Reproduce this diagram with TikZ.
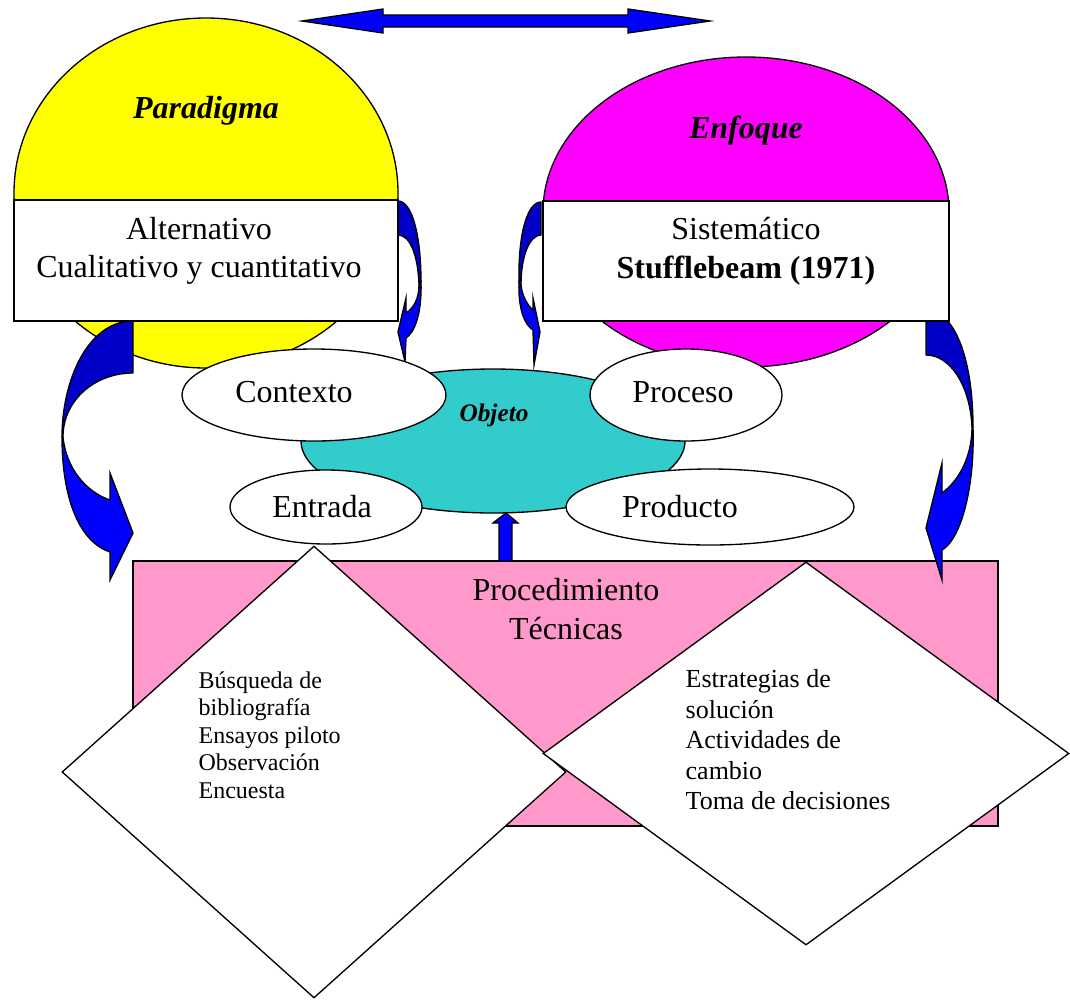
\documentclass[tikz,border=0pt]{standalone}
\usepackage{fontspec}
\setmainfont{Liberation Serif}
\usetikzlibrary{shapes.geometric}
\newlength\pxu
\setlength\pxu{0.75pt}
\definecolor{sunyellow}{HTML}{FFFF00}
\definecolor{hotmagenta}{HTML}{FF00FF}
\definecolor{objteal}{HTML}{33CCCC}
\definecolor{procpink}{HTML}{FF99CC}
\definecolor{ribbonblue}{HTML}{0000FF}
\definecolor{ribbondark}{HTML}{0000C8}
\begin{document}
\begin{tikzpicture}[x=0.75pt, y=-0.75pt, line width=1pt,
  blob/.style={ellipse, draw=black, inner sep=0pt, outer sep=0pt},
  panel/.style={rectangle, draw=black, fill=white, inner sep=0pt},
  rhomb/.style={diamond, draw=black, fill=white, inner sep=0pt},
  bigtext/.style={font=\fontsize{24}{29}\selectfont, inner sep=0pt},
  titletext/.style={font=\fontsize{24}{29}\selectfont\bfseries\itshape, inner sep=0pt},
  ribbonback/.style={fill=ribbondark, draw=black, line join=round},
  ribbonfront/.style={fill=ribbonblue, draw=black, line join=miter},
  blockarrow/.style={fill=ribbonblue, draw=black, line join=miter}]
\useasboundingbox (0,0) rectangle (1070,1000);

% procedure panel at the bottom
\node[panel, fill=procpink, minimum width=865\pxu, minimum height=265\pxu] (proc) at (565.5,693.5) {};

% paradigm and approach discs
\node[blob, fill=sunyellow, minimum width=384\pxu, minimum height=350\pxu] (paradisc) at (206,193) {};
\node[blob, fill=hotmagenta, minimum width=406\pxu, minimum height=310\pxu] (enfdisc) at (746,212) {};

% double arrow across the top
\draw[blockarrow] (302,21) -- (383,9) -- (383,15) -- (628,15) -- (628,9) -- (710,21)
  -- (628,33) -- (628,27) -- (383,27) -- (383,33) -- cycle;

% large curved ribbon arrow, left
\draw[ribbonback] (133,321) .. controls (88,321) and (62,380) .. (62,437)
  -- (63,437) .. controls (63,400) and (95,373) .. (133,373) -- cycle;
\draw[ribbonfront] (62,437) .. controls (62,500) and (80,542) .. (110,552)
  -- (110,580) -- (133,533) -- (110,473) -- (110,500)
  .. controls (86,492) and (66,468) .. (63,437) -- cycle;

% large curved ribbon arrow, right
\draw[ribbonback] (926,310) .. controls (955,310) and (973,360) .. (973,427)
  -- (972,427) .. controls (970,385) and (950,355) .. (926,355) -- cycle;
\draw[ribbonfront] (973,427) .. controls (975,490) and (960,540) .. (942,550)
  -- (942,580) -- (926,528) -- (942,463) -- (942,493)
  .. controls (960,480) and (972,455) .. (972,427) -- cycle;

% small curved ribbon arrow, left
\draw[ribbonback] (398,201) .. controls (412,201) and (421,235) .. (421,282)
  -- (419,285) .. controls (418,255) and (410,235) .. (398,235) -- cycle;
\draw[ribbonfront] (421,282) .. controls (422,315) and (414,333) .. (406,338)
  -- (405,362) -- (398,332) -- (406,298) -- (406,313)
  .. controls (414,308) and (419,298) .. (419,285) -- cycle;

% small curved ribbon arrow, right
\draw[ribbonback] (541,202) .. controls (527,202) and (518,235) .. (519,282)
  -- (521,285) .. controls (521,255) and (530,235) .. (541,235) -- cycle;
\draw[ribbonfront] (519,282) .. controls (518,310) and (525,325) .. (533,330)
  -- (534,365) -- (540,332) -- (533,298) -- (533,310)
  .. controls (527,305) and (522,295) .. (521,285) -- cycle;

% label panels across the discs
\node[panel, minimum width=384\pxu, minimum height=121\pxu] (altbox) at (206,260.5) {};
\node[panel, minimum width=406\pxu, minimum height=120\pxu] (sisbox) at (746,261) {};

% object and its four facets
\node[blob, fill=objteal, minimum width=384\pxu, minimum height=144\pxu] (objeto) at (493,441) {};
\node[blob, fill=white, minimum width=264\pxu, minimum height=92\pxu] (contexto) at (314,395) {};
\node[blob, fill=white, minimum width=192\pxu, minimum height=92\pxu] (proceso) at (686,395) {};
\node[blob, fill=white, minimum width=192\pxu, minimum height=74\pxu] (entrada) at (326,507) {};
\node[blob, fill=white, minimum width=288\pxu, minimum height=76\pxu] (producto) at (710,507) {};

% upward arrow from the panel to the object
\draw[blockarrow] (506,513) -- (518,523) -- (512,523) -- (512,561) -- (499,561)
  -- (499,523) -- (493,523) -- cycle;

% technique diamonds
\node[rhomb, minimum width=504\pxu, minimum height=452\pxu] (tecnicas) at (314,772) {};
\node[rhomb, minimum width=526\pxu, minimum height=383\pxu] (estrategias) at (806,753.5) {};

% texts
\node[titletext] (paradigma) at (206,111) {Paradigma};
\node[titletext] (enfoque) at (746,131) {Enfoque};
\node[bigtext, align=center] (alttext) at (199,251) {Alternativo\\Cualitativo y cuantitativo};
\node[bigtext, align=center] (sistext) at (746,251) {Sistemático\\\textbf{Stufflebeam (1971)}};
\node[font=\fontsize{19}{22}\selectfont\bfseries\itshape, inner sep=0pt] (objtext) at (494,415) {Objeto};
\node[bigtext] (ctxtext) at (294,392) {Contexto};
\node[bigtext] (proctext) at (683,392) {Proceso};
\node[bigtext] (enttext) at (322,507) {Entrada};
\node[bigtext] (prodtext) at (680,507) {Producto};
\node[bigtext, align=center] (proctitle) at (566,609) {Procedimiento\\Técnicas};
\node[font=\fontsize{18}{20.6}\selectfont, align=left, anchor=west, inner sep=0pt] (teclist) at (198,735)
  {Búsqueda de\\bibliografía\\Ensayos piloto\\Observación\\Encuesta};
\node[font=\fontsize{19.5}{22.9}\selectfont, align=left, anchor=west, inner sep=0pt] (estlist) at (685,740)
  {Estrategias de\\solución\\Actividades de\\cambio\\Toma de decisiones};
\end{tikzpicture}
\end{document}
